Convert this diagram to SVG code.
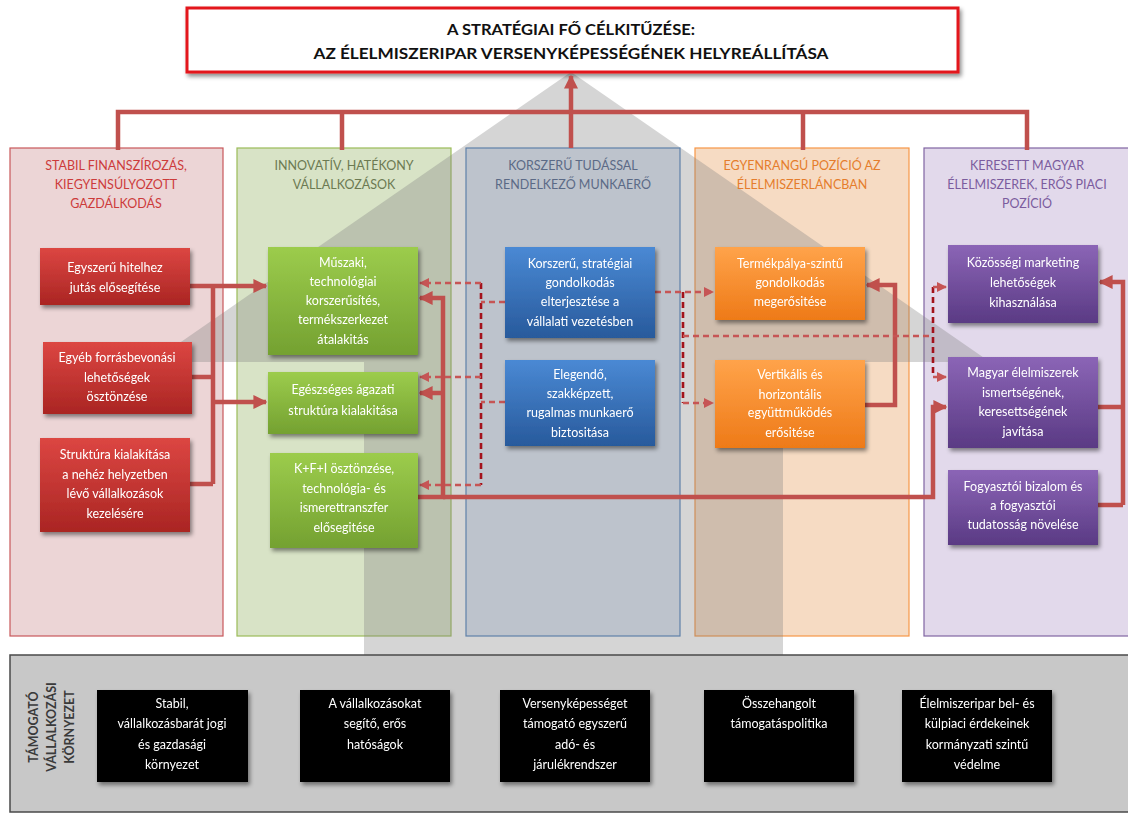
<svg xmlns="http://www.w3.org/2000/svg" width="1128" height="814" viewBox="0 0 1128 814">
<defs>
<style>
.col{stroke-width:1.2}
.hdr{font-family:Lato,"Liberation Sans",sans-serif;font-size:12.5px;text-anchor:middle}
.nt{font-family:Lato,"Liberation Sans",sans-serif;font-size:12.5px;fill:#fff;text-anchor:middle}
.bt{font-family:Lato,"Liberation Sans",sans-serif;font-size:12.5px;fill:#fff;text-anchor:middle}
.s{fill:none;stroke:#c0504d;stroke-width:4.5;stroke-linejoin:miter}
.dh{fill:none;stroke:#c65555;stroke-width:2.6;stroke-dasharray:6 4}
.dv{fill:none;stroke:#a3121b;stroke-width:2.6;stroke-dasharray:6 4}
</style>
<filter id="sh" x="-10%" y="-10%" width="130%" height="140%">
<feDropShadow dx="2" dy="3" stdDeviation="2" flood-color="#000" flood-opacity="0.45"/>
</filter>
<linearGradient id="gR" x1="0" y1="0" x2="0" y2="1"><stop offset="0" stop-color="#dc4642"/><stop offset="1" stop-color="#aa2523"/></linearGradient>
<linearGradient id="gG" x1="0" y1="0" x2="0" y2="1"><stop offset="0" stop-color="#9ccc4c"/><stop offset="1" stop-color="#74a131"/></linearGradient>
<linearGradient id="gB" x1="0" y1="0" x2="0" y2="1"><stop offset="0" stop-color="#4a89d4"/><stop offset="1" stop-color="#285a9c"/></linearGradient>
<linearGradient id="gO" x1="0" y1="0" x2="0" y2="1"><stop offset="0" stop-color="#ffa34a"/><stop offset="1" stop-color="#ee7a18"/></linearGradient>
<linearGradient id="gP" x1="0" y1="0" x2="0" y2="1"><stop offset="0" stop-color="#8b65b6"/><stop offset="1" stop-color="#5a3a84"/></linearGradient>
<marker id="aS" viewBox="0 0 10 10" refX="9" refY="5" markerUnits="userSpaceOnUse" markerWidth="14" markerHeight="14" orient="auto"><path d="M0,0 L10,5 L0,10 z" fill="#c0504d"/></marker>
<marker id="aD" viewBox="0 0 10 10" refX="9" refY="5" markerUnits="userSpaceOnUse" markerWidth="10" markerHeight="10" orient="auto"><path d="M0,0 L10,5 L0,10 z" fill="#c65555"/></marker>
</defs>
<rect x="0" y="0" width="1128" height="814" fill="#fff"/>

<g id="columns">
<rect class="col" x="10" y="148" width="213" height="488" fill="#ecd5d6" stroke="#c8585a"/>
<rect class="col" x="237" y="148" width="214" height="488" fill="#d8e3c6" stroke="#9bbb59"/>
<rect class="col" x="466" y="148" width="214" height="488" fill="#dce5f2" stroke="#4f81bd"/>
<rect class="col" x="695" y="148" width="214" height="488" fill="#f6dbc3" stroke="#f79646"/>
<rect class="col" x="924" y="148" width="216" height="488" fill="#e2d9eb" stroke="#8064a2"/>
</g>

<polygon id="big-arrow" points="571,72 990,362 783,362 783,660 364,660 364,362 152,362" fill="#7f7f7f" fill-opacity="0.33"/>

<g id="bottom-panel">
<rect x="10" y="655" width="1130" height="157" fill="#c8c8c8" stroke="#4a4a4a" stroke-width="1.5"/>
<g font-family="Lato,'Liberation Sans',sans-serif" font-size="12.5" font-weight="bold" fill="#3a3a3a" text-anchor="middle">
<text transform="translate(38,727) rotate(-90)">TÁMOGATÓ</text>
<text transform="translate(56,727) rotate(-90)">VÁLLALKOZÁSI</text>
<text transform="translate(74,727) rotate(-90)">KÖRNYEZET</text>
</g>
</g>

<g id="title">
<rect x="187" y="8" width="771" height="64" fill="#fff" stroke="#e3141c" stroke-width="3" filter="url(#sh)"/>
<g font-family="Lato,'Liberation Sans',sans-serif" font-size="15.5" font-weight="bold" fill="#111" text-anchor="middle">
<text x="571" y="35" textLength="248" lengthAdjust="spacingAndGlyphs">A STRATÉGIAI FŐ CÉLKITŰZÉSE:</text>
<text x="571" y="59" textLength="515" lengthAdjust="spacingAndGlyphs">AZ ÉLELMISZERIPAR VERSENYKÉPESSÉGÉNEK HELYREÁLLÍTÁSA</text>
</g>
</g>

<g id="headers">
<g class="hdr" fill="#cc3b3b"><text x="116" y="170">STABIL FINANSZÍROZÁS,</text><text x="116" y="189">KIEGYENSÚLYOZOTT</text><text x="116" y="208">GAZDÁLKODÁS</text></g>
<g class="hdr" fill="#6c7a52"><text x="344" y="170">INNOVATÍV, HATÉKONY</text><text x="344" y="189">VÁLLALKOZÁSOK</text></g>
<g class="hdr" fill="#5b6a86"><text x="573" y="170">KORSZERŰ TUDÁSSAL</text><text x="573" y="189">RENDELKEZŐ MUNKAERŐ</text></g>
<g class="hdr" fill="#e57d2c"><text x="802" y="170">EGYENRANGÚ POZÍCIÓ AZ</text><text x="802" y="189">ÉLELMISZERLÁNCBAN</text></g>
<g class="hdr" fill="#7b5c9e"><text x="1027" y="170">KERESETT MAGYAR</text><text x="1027" y="189">ÉLELMISZEREK, ERŐS PIACI</text><text x="1027" y="208">POZÍCIÓ</text></g>
</g>

<g id="connectors">
<path class="s" d="M118,150 V112 H1027 V150 M342,112 V150 M803,112 V150"/>
<path class="s" d="M571,148 V76" marker-end="url(#aS)"/>
<path class="s" d="M190,286 H266" marker-end="url(#aS)"/>
<path class="s" d="M192,377 H213 M190,484 H213 M213,286 V484"/>
<path class="s" d="M213,402 H266" marker-end="url(#aS)"/>
<path class="s" d="M418,497 H443 V298 H420" marker-end="url(#aS)"/>
<path class="s" d="M443,393 H420" marker-end="url(#aS)"/>
<path class="s" d="M443,497 H933 V407 H946" marker-end="url(#aS)"/>
<path class="s" d="M865,405 H895 V285 H867" marker-end="url(#aS)"/>
<path class="s" d="M1098,407 H1123 M1098,505 H1123"/>
<path class="s" d="M1123,505 V282 H1100" marker-end="url(#aS)"/>
<path class="dv" d="M481,283 V485"/>
<path class="dh" d="M505,302 H481 M505,402 H481"/>
<path class="dh" d="M481,283 H420" marker-end="url(#aD)"/>
<path class="dh" d="M481,377 H420" marker-end="url(#aD)"/>
<path class="dh" d="M481,485 H420" marker-end="url(#aD)"/>
<path class="dh" d="M655,292 H713" marker-end="url(#aD)"/>
<path class="dv" d="M683,292 V403"/>
<path class="dh" d="M683,403 H713" marker-end="url(#aD)"/>
<path class="dh" d="M683,336 H933"/>
<path class="dv" d="M933,287 V377"/>
<path class="dh" d="M933,287 H946" marker-end="url(#aD)"/>
<path class="dh" d="M933,377 H946" marker-end="url(#aD)"/>
</g>

<g id="r1" filter="url(#sh)"><rect x="40" y="248" width="150" height="57" fill="url(#gR)"/><g class="nt"><text x="115" y="272">Egyszerű hitelhez</text><text x="115" y="292">jutás elősegítése</text></g></g>
<g id="r2" filter="url(#sh)"><rect x="43" y="342" width="149" height="72" fill="url(#gR)"/><g class="nt"><text x="117" y="362">Egyéb forrásbevonási</text><text x="117" y="382">lehetőségek</text><text x="117" y="401">ösztönzése</text></g></g>
<g id="r3" filter="url(#sh)"><rect x="40" y="438" width="150" height="94" fill="url(#gR)"/><g class="nt"><text x="115" y="459">Struktúra kialakítása</text><text x="115" y="479">a nehéz helyzetben</text><text x="115" y="498">lévő vállalkozások</text><text x="115" y="518">kezelésére</text></g></g>

<g id="g1" filter="url(#sh)"><rect x="268" y="247" width="150" height="108" fill="url(#gG)"/><g class="nt"><text x="343" y="267">Műszaki,</text><text x="343" y="286">technológiai</text><text x="343" y="305">korszerűsítés,</text><text x="343" y="324">termékszerkezet</text><text x="343" y="344">átalakitás</text></g></g>
<g id="g2" filter="url(#sh)"><rect x="268" y="372" width="150" height="62" fill="url(#gG)"/><g class="nt"><text x="343" y="394">Egészséges ágazati</text><text x="343" y="415">struktúra kialakitása</text></g></g>
<g id="g3" filter="url(#sh)"><rect x="270" y="453" width="148" height="95" fill="url(#gG)"/><g class="nt"><text x="344" y="473">K+F+I ösztönzése,</text><text x="344" y="493">technológia- és</text><text x="344" y="512">ismerettranszfer</text><text x="344" y="532">elősegitése</text></g></g>

<g id="b1" filter="url(#sh)"><rect x="505" y="247" width="150" height="91" fill="url(#gB)"/><g class="nt"><text x="580" y="268">Korszerű, stratégiai</text><text x="580" y="287">gondolkodás</text><text x="580" y="306">elterjesztése a</text><text x="580" y="326">vállalati vezetésben</text></g></g>
<g id="b2" filter="url(#sh)"><rect x="505" y="360" width="150" height="86" fill="url(#gB)"/><g class="nt"><text x="580" y="379">Elegendő,</text><text x="580" y="398">szakképzett,</text><text x="580" y="417">rugalmas munkaerő</text><text x="580" y="437">biztositása</text></g></g>

<g id="o1" filter="url(#sh)"><rect x="715" y="247" width="150" height="73" fill="url(#gO)"/><g class="nt"><text x="790" y="268">Termékpálya-szintű</text><text x="790" y="287">gondolkodás</text><text x="790" y="306">megerősitése</text></g></g>
<g id="o2" filter="url(#sh)"><rect x="715" y="360" width="150" height="88" fill="url(#gO)"/><g class="nt"><text x="790" y="379">Vertikális és</text><text x="790" y="399">horizontális</text><text x="790" y="417">együttműködés</text><text x="790" y="437">erősitése</text></g></g>

<g id="p1" filter="url(#sh)"><rect x="948" y="245" width="150" height="78" fill="url(#gP)"/><g class="nt"><text x="1023" y="267">Közösségi marketing</text><text x="1023" y="287">lehetőségek</text><text x="1023" y="307">kihasználása</text></g></g>
<g id="p2" filter="url(#sh)"><rect x="948" y="357" width="150" height="91" fill="url(#gP)"/><g class="nt"><text x="1023" y="377">Magyar élelmiszerek</text><text x="1023" y="397">ismertségének,</text><text x="1023" y="416">keresettségének</text><text x="1023" y="436">javítása</text></g></g>
<g id="p3" filter="url(#sh)"><rect x="948" y="470" width="150" height="75" fill="url(#gP)"/><g class="nt"><text x="1023" y="491">Fogyasztói bizalom és</text><text x="1023" y="510">a fogyasztói</text><text x="1023" y="529">tudatosság növelése</text></g></g>

<g id="k1" filter="url(#sh)"><rect x="97" y="690" width="151" height="92" fill="#000"/><g class="bt"><text x="172" y="708">Stabil,</text><text x="172" y="728">vállalkozásbarát jogi</text><text x="172" y="749">és gazdasági</text><text x="172" y="769">környezet</text></g></g>
<g id="k2" filter="url(#sh)"><rect x="300" y="690" width="150" height="92" fill="#000"/><g class="bt"><text x="375" y="708">A vállalkozásokat</text><text x="375" y="728">segítő, erős</text><text x="375" y="749">hatóságok</text></g></g>
<g id="k3" filter="url(#sh)"><rect x="500" y="690" width="150" height="92" fill="#000"/><g class="bt"><text x="575" y="708">Versenyképességet</text><text x="575" y="728">támogató egyszerű</text><text x="575" y="749">adó- és</text><text x="575" y="769">járulékrendszer</text></g></g>
<g id="k4" filter="url(#sh)"><rect x="704" y="690" width="150" height="92" fill="#000"/><g class="bt"><text x="779" y="708">Összehangolt</text><text x="779" y="728">támogatáspolitika</text></g></g>
<g id="k5" filter="url(#sh)"><rect x="902" y="690" width="150" height="92" fill="#000"/><g class="bt"><text x="977" y="708">Élelmiszeripar bel- és</text><text x="977" y="728">külpiaci érdekeinek</text><text x="977" y="749">kormányzati szintű</text><text x="977" y="769">védelme</text></g></g>
</svg>
